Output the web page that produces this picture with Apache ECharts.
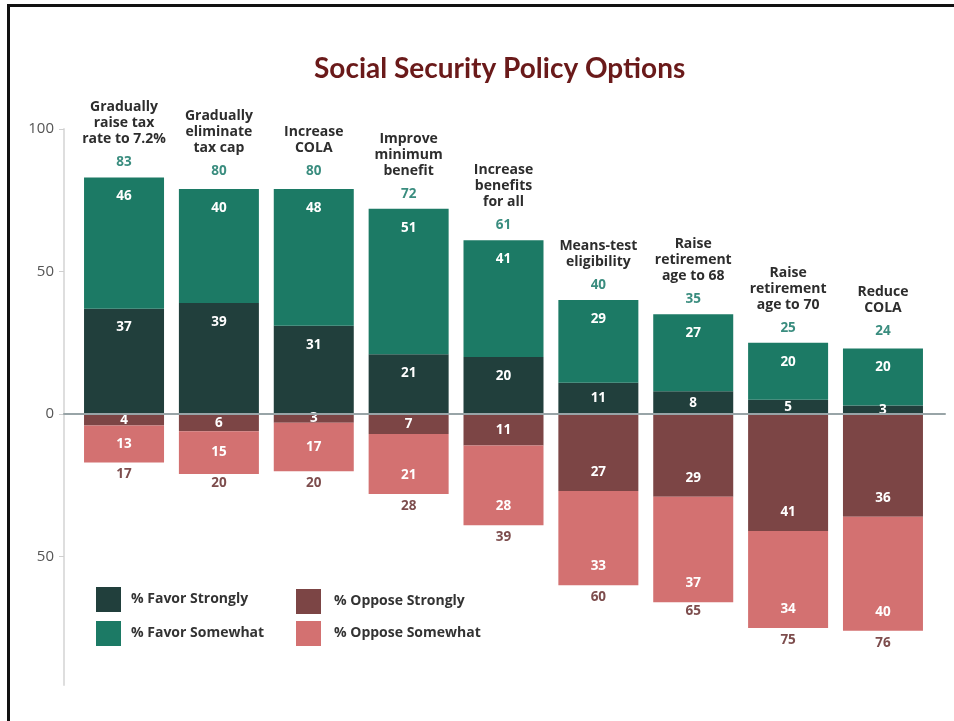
<!DOCTYPE html>
<html>
<head>
<meta charset="utf-8">
<title>Social Security Policy Options</title>
<script src="https://cdn.jsdelivr.net/npm/echarts@6/dist/echarts.min.js"></script>
<style>
  html, body { margin: 0; padding: 0; background: #fff; }
  #chart { width: 954px; height: 721px; }
  /* the scanned frame: black rule on the top and left edges only */
  #frame {
    position: absolute; left: 7px; top: 4px; right: 0; bottom: 0;
    border-left: 3px solid #111; border-top: 3px solid #111;
    pointer-events: none;
  }
</style>
</head>
<body>
<div id="chart"></div>
<div id="frame"></div>
<script>
// Survey data (percent of respondents).
const categories = [
  'Gradually\nraise tax\nrate to 7.2%',
  'Gradually\neliminate\ntax cap',
  'Increase\nCOLA',
  'Improve\nminimum\nbenefit',
  'Increase\nbenefits\nfor all',
  'Means-test\neligibility',
  'Raise\nretirement\nage to 68',
  'Raise\nretirement\nage to 70',
  'Reduce\nCOLA',
];
const favorStrongly = [37, 39, 31, 21, 20, 11, 8, 5, 3];
const favorSomewhat = [46, 40, 48, 51, 41, 29, 27, 20, 20];
const opposeStrongly = [4, 6, 3, 7, 11, 27, 29, 41, 36];
const opposeSomewhat = [13, 15, 17, 21, 28, 33, 37, 34, 40];
// printed totals (rounded independently, so not always the sum of the parts)
const favorTotal = [83, 80, 80, 72, 61, 40, 35, 25, 24];
const opposeTotal = [17, 20, 20, 28, 39, 60, 65, 75, 76];
const yTicks = [-50, 0, 50, 100];

const FONT = '"Open Sans", sans-serif';
const COLORS = {
  favorStrongly: '#213f3c',
  favorSomewhat: '#1c7a65',
  opposeStrongly: '#7c4545',
  opposeSomewhat: '#d37171',
};

// Tall segments carry their number near the outer end, short ones in the middle.
function favorLabel(v) {
  return v >= 15 ? { position: 'insideTop', distance: 12 } : { position: 'inside' };
}
function opposeLabel(v) {
  return v >= 20 ? { position: 'insideBottom', distance: 12 } : { position: 'inside' };
}

const Y_MIN = -95;
const Y_MAX = 100;
const barBase = {
  type: 'bar',
  xAxisIndex: 0,
  yAxisIndex: 0,
  barWidth: 80,
  barGap: '-100%',
  emphasis: { disabled: true },
  label: {
    show: true,
    color: '#fff',
    fontFamily: FONT,
    fontWeight: 'bold',
    fontSize: 13.5,
    formatter: (p) => Math.abs(p.value),
  },
};
const legendText = { fontFamily: FONT, fontWeight: 'bold', fontSize: 14, color: '#333' };

const chart = echarts.init(document.getElementById('chart'), null, { renderer: 'canvas' });

chart.setOption({
  animation: false,
  title: {
    text: 'Social Security Policy Options',
    left: 314,
    top: 55,
    padding: 0,
    textStyle: { fontFamily: 'Lato', fontWeight: 'bold', fontSize: 28, color: '#6a1a1a' },
  },
  legend: [
    {
      data: ['% Favor Strongly', '% Favor Somewhat'],
      left: 96, top: 587, orient: 'vertical', padding: 0,
      icon: 'rect', itemWidth: 25, itemHeight: 25, itemGap: 9,
      textStyle: Object.assign({ padding: [0, 0, 0, 5] }, legendText),
    },
    {
      data: ['% Oppose Strongly', '% Oppose Somewhat'],
      left: 296, top: 589, orient: 'vertical', padding: 0,
      icon: 'rect', itemWidth: 25, itemHeight: 25, itemGap: 7,
      textStyle: Object.assign({ padding: [0, 0, 0, 8] }, legendText),
    },
  ],
  // grid 0 holds the bars; grid 1 is the wider frame with the visible y axis and zero line
  grid: [
    { left: 76.6, right: 23.6, top: 129, bottom: 36 },
    { left: 64, right: 9, top: 129, bottom: 36 },
  ],
  xAxis: [
    { gridIndex: 0, type: 'category', data: categories, show: false },
    {
      gridIndex: 1, type: 'value', min: 0, max: 1, z: 3,
      axisLine: { show: true, onZero: true, lineStyle: { color: '#98a4a7', width: 2 } },
      axisTick: { show: false }, axisLabel: { show: false }, splitLine: { show: false },
    },
  ],
  yAxis: [
    { gridIndex: 0, type: 'value', min: Y_MIN, max: Y_MAX, show: false },
    {
      gridIndex: 1, type: 'value', min: Y_MIN, max: Y_MAX,
      axisLine: { show: true, lineStyle: { color: '#dedede', width: 2 } },
      axisTick: { show: true, length: 5, customValues: yTicks, lineStyle: { color: '#cfcfcf' } },
      axisLabel: {
        customValues: yTicks, margin: 10,
        formatter: (v) => Math.abs(v),
        fontFamily: FONT, fontSize: 15, color: '#555',
      },
      splitLine: { show: false },
    },
  ],
  series: [
    Object.assign({}, barBase, {
      name: '% Favor Strongly', stack: 'all',
      itemStyle: { color: COLORS.favorStrongly },
      data: favorStrongly.map((v) => ({ value: v, label: favorLabel(v) })),
    }),
    Object.assign({}, barBase, {
      name: '% Favor Somewhat', stack: 'all',
      itemStyle: { color: COLORS.favorSomewhat },
      data: favorSomewhat.map((v) => ({ value: v, label: favorLabel(v) })),
    }),
    Object.assign({}, barBase, {
      name: '% Oppose Strongly', stack: 'all',
      itemStyle: { color: COLORS.opposeStrongly },
      data: opposeStrongly.map((v) => ({ value: -v, label: opposeLabel(v) })),
    }),
    Object.assign({}, barBase, {
      name: '% Oppose Somewhat', stack: 'all',
      itemStyle: { color: COLORS.opposeSomewhat },
      data: opposeSomewhat.map((v) => ({ value: -v, label: opposeLabel(v) })),
    }),
    // invisible bars that only carry the printed totals and the policy names
    Object.assign({}, barBase, {
      name: 'favorTotal', silent: true,
      itemStyle: { color: 'transparent' },
      data: favorTotal,
      label: {
        show: true, position: 'top', distance: 0, align: 'center',
        formatter: (p) => `{name|${categories[p.dataIndex]}}\n{total|${favorTotal[p.dataIndex]}}`,
        rich: {
          name: { fontFamily: FONT, fontWeight: 'bold', fontSize: 14, lineHeight: 16, color: '#2d2d2d', align: 'center' },
          total: { fontFamily: FONT, fontWeight: 'bold', fontSize: 13.5, lineHeight: 30, color: '#3a8d7f', align: 'center' },
        },
      },
    }),
    Object.assign({}, barBase, {
      name: 'opposeTotal', silent: true,
      itemStyle: { color: 'transparent' },
      data: opposeTotal.map((v) => -v),
      label: {
        show: true, position: 'bottom', distance: 5,
        fontFamily: FONT, fontWeight: 'bold', fontSize: 13.5, color: '#7d4d4d',
        formatter: (p) => opposeTotal[p.dataIndex],
      },
    }),
  ],
});
</script>
</body>
</html>
